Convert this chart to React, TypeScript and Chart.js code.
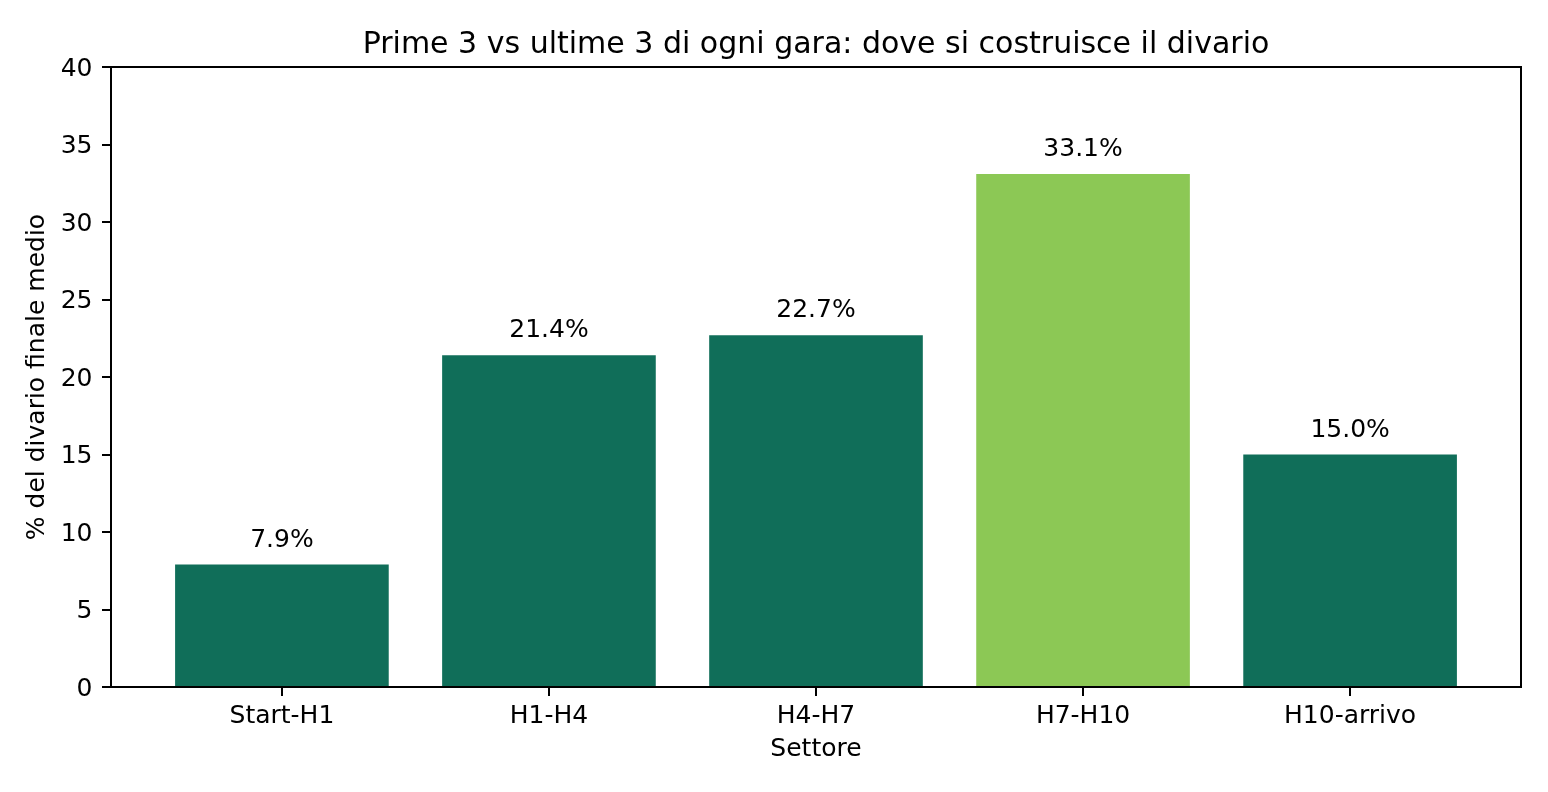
import React, { useEffect, useRef } from "react";
import { Chart, registerables } from "chart.js";

Chart.register(...registerables);

const categories = ["Start-H1", "H1-H4", "H4-H7", "H7-H10", "H10-arrivo"];
const values = [7.9, 21.4, 22.7, 33.1, 15.0];
const highlightCategory = "H7-H10";
const yTicks = [0, 5, 10, 15, 20, 25, 30, 35, 40];

const TITLE = "Prime 3 vs ultime 3 di ogni gara: dove si costruisce il divario";
const X_TITLE = "Settore";
const Y_TITLE = "% del divario finale medio";

const DARK = "#106e59";
const LIGHT = "#8cc855";
const FONT = "'DejaVu Sans', sans-serif";

export default function App() {
  const ref = useRef<HTMLCanvasElement | null>(null);

  useEffect(() => {
    document.body.style.margin = "0";
    const canvas = ref.current;
    if (!canvas) return;

    const frame = {
      id: "frame",
      afterDraw(chart: any) {
        const { ctx, chartArea } = chart;
        ctx.save();
        ctx.strokeStyle = "#000";
        ctx.lineWidth = 2;
        ctx.strokeRect(chartArea.left, chartArea.top, chartArea.right - chartArea.left, chartArea.bottom - chartArea.top);
        ctx.restore();
      },
    };

    const barLabels = {
      id: "barLabels",
      afterDatasetsDraw(chart: any) {
        const { ctx } = chart;
        const meta = chart.getDatasetMeta(0);
        ctx.save();
        ctx.fillStyle = "#000";
        ctx.font = `25px ${FONT}`;
        ctx.textAlign = "center";
        ctx.textBaseline = "alphabetic";
        meta.data.forEach((bar: any, i: number) => {
          ctx.fillText(values[i].toFixed(1) + "%", bar.x, bar.y - 18);
        });
        ctx.restore();
      },
    };

    const chart = new Chart(canvas, {
      type: "bar",
      data: {
        datasets: [
          {
            data: values.map((v, i) => ({ x: i, y: v })),
            backgroundColor: categories.map((c) => (c === highlightCategory ? LIGHT : DARK)),
            borderWidth: 0,
            categoryPercentage: 1,
            barPercentage: 0.8,
          },
        ],
      },
      options: {
        animation: false,
        responsive: false,
        devicePixelRatio: 1,
        layout: { padding: { top: 0, right: 27, left: 0, bottom: 0 } },
        plugins: {
          legend: { display: false },
          tooltip: { enabled: false },
          title: {
            display: true,
            text: TITLE,
            fullSize: false,
            color: "#000",
            font: { family: FONT, size: 30, weight: "normal", lineHeight: 1.2 },
            padding: { top: 27, bottom: 4 },
          },
        },
        scales: {
          x: {
            type: "linear",
            min: -0.64,
            max: 4.64,
            offset: false,
            afterFit(scale: any) {
              scale.height = 105;
            },
            afterBuildTicks(scale: any) {
              scale.ticks = categories.map((_, i) => ({ value: i }));
            },
            border: { display: false },
            grid: { offset: false, drawOnChartArea: false, drawTicks: true, tickLength: 9, color: "#000", lineWidth: 2 },
            ticks: {
              color: "#000",
              font: { family: FONT, size: 25, lineHeight: 1.2 },
              padding: 5.5,
              maxRotation: 0,
              autoSkip: false,
              callback: (v: any) => categories[Math.round(Number(v))] ?? "",
            },
            title: {
              display: true,
              text: X_TITLE,
              color: "#000",
              font: { family: FONT, size: 25, lineHeight: 1.2 },
              padding: { top: 0, bottom: 27.6 },
            },
          },
          y: {
            type: "linear",
            min: 0,
            max: 40,
            afterFit(scale: any) {
              scale.width = 111;
            },
            afterBuildTicks(scale: any) {
              scale.ticks = yTicks.map((v) => ({ value: v }));
            },
            border: { display: false },
            grid: { drawOnChartArea: false, drawTicks: true, tickLength: 9, color: "#000", lineWidth: 2 },
            ticks: {
              color: "#000",
              font: { family: FONT, size: 25, lineHeight: 1.2 },
              padding: 9.5,
              labelOffset: 2,
              callback: (v: any) => String(v),
            },
            title: {
              display: true,
              text: Y_TITLE,
              color: "#000",
              font: { family: FONT, size: 25, lineHeight: 1.2 },
              padding: { top: 22.5, bottom: 0 },
            },
          },
        },
      },
      plugins: [frame, barLabels],
    });

    return () => chart.destroy();
  }, []);

  return (
    <div style={{ width: 1548, height: 792, background: "#fff" }}>
      <canvas ref={ref} width={1548} height={792} style={{ display: "block" }} />
    </div>
  );
}
